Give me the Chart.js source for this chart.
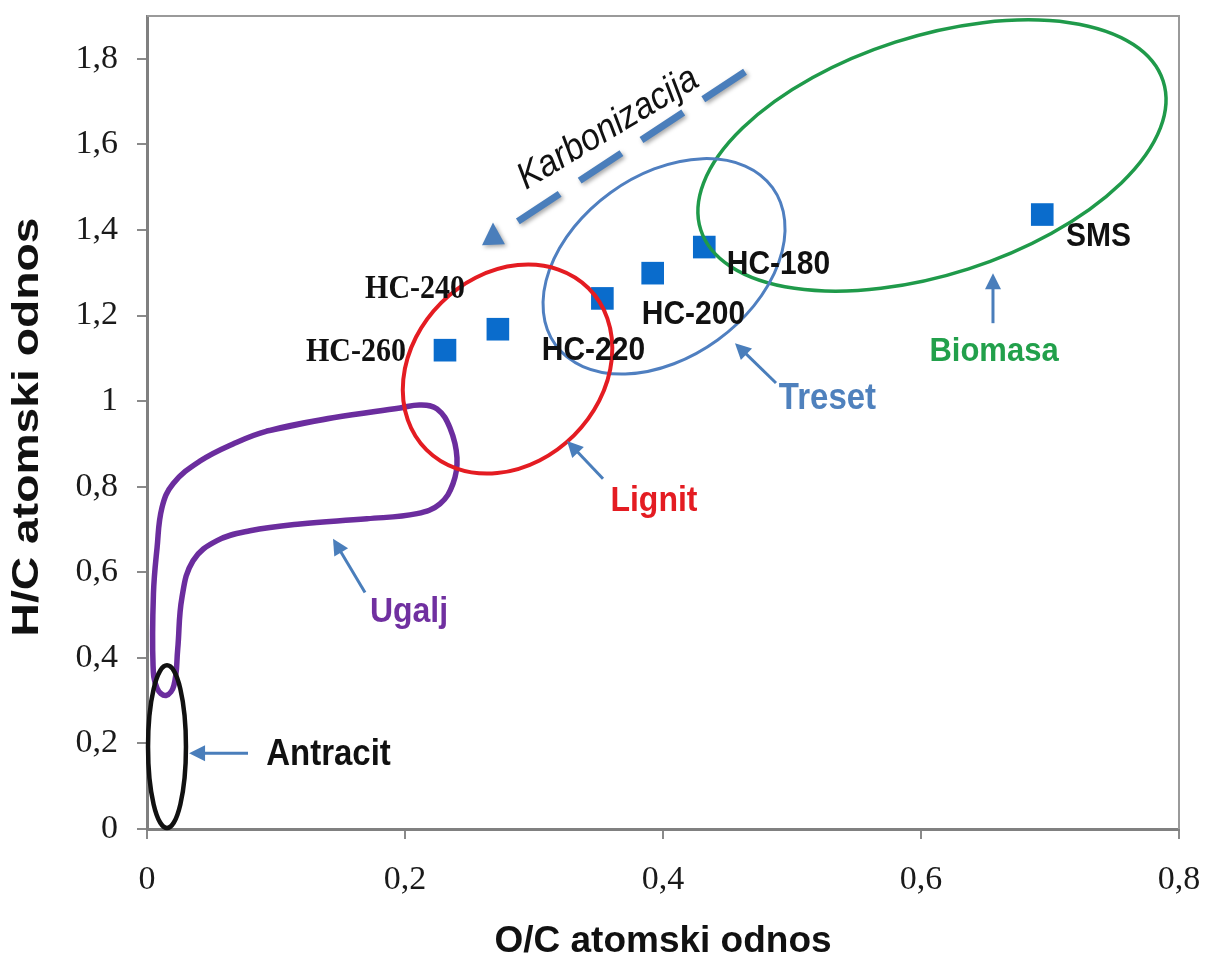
<!DOCTYPE html>
<html><head><meta charset="utf-8">
<script src="https://cdn.jsdelivr.net/npm/chart.js@4.4.1/dist/chart.umd.min.js"></script>
<style>html,body{margin:0;padding:0;background:#fff}#wrap{width:1206px;height:960px}</style>
</head><body><div id="wrap"><canvas id="c" width="1206" height="960"></canvas></div>
<script>
// ---- data ----
const categories = ['HC-260', 'HC-240', 'HC-220', 'HC-200', 'HC-180', 'SMS'];
const ocRatio = [0.231, 0.272, 0.353, 0.392, 0.432, 0.694];
const hcRatio = [1.119, 1.168, 1.240, 1.299, 1.360, 1.436];

const xTickValues = [0, 0.2, 0.4, 0.6, 0.8];
const xTickLabels = ['0', '0,2', '0,4', '0,6', '0,8'];
const yTickValues = [0, 0.2, 0.4, 0.6, 0.8, 1.0, 1.2, 1.4, 1.6, 1.8];
const yTickLabels = ['0', '0,2', '0,4', '0,6', '0,8', '1', '1,2', '1,4', '1,6', '1,8'];

// Ugalj (coal) region outline
const coalOC = [0.0930, 0.1442, 0.1961, 0.2116, 0.2248, 0.2349, 0.2403, 0.2372, 0.2271, 0.2093, 0.1705, 0.1186, 0.0798, 0.0543, 0.0357, 0.0271, 0.0238, 0.0209, 0.0147, 0.0078, 0.0047, 0.0050, 0.0078, 0.0116, 0.0202, 0.0411, 0.0667, 0.0930, 0.1442, 0.1961];
const coalHC = [0.930, 0.961, 0.984, 0.991, 0.982, 0.937, 0.867, 0.807, 0.760, 0.737, 0.725, 0.713, 0.697, 0.674, 0.627, 0.541, 0.420, 0.336, 0.312, 0.329, 0.382, 0.550, 0.657, 0.751, 0.807, 0.860, 0.900, 0.930, 0.961, 0.984];

// region ellipses: centre and two conjugate half-axis vectors (data units)
const regionNames = ['Biomasa', 'Treset', 'Lignit', 'Antracit'];
const regionCenterOC = [0.6085, 0.4008, 0.2795, 0.0155];
const regionCenterHC = [1.574, 1.315, 1.0748, 0.1924];
const regionAxisU = [[0.1792, 0.1741], [0.0841, 0.1838], [0.0628, 0.1889], [0.0147, 0]];
const regionAxisV = [[0.02845, -0.2649], [0.04155, -0.1721], [0.0515, -0.1548], [0, 0.19]];
const regionColors = ['#1f9a4a', '#4f7fc0', '#e41c22', '#111111'];
const regionWidths = [3.5, 3, 4, 4.5];

// point labels
const pointLabelOC = [0.162, 0.2078, 0.3461, 0.4236, 0.4895, 0.7376];
const pointLabelHC = [1.113, 1.260, 1.118, 1.202, 1.3185, 1.3838];
const pointLabelSerif = [true, true, false, false, false, false];

// region labels + arrows (tail -> tip)
const regionLabelOC = [0.6566, 0.5275, 0.393, 0.1407, 0.2031];
const regionLabelHC = [1.1168, 1.005, 0.767, 0.1725, 0.506];
const regionLabelText = ['Biomasa', 'Treset', 'Lignit', 'Antracit', 'Ugalj'];
const regionLabelColor = ['#22a04b', '#4f81bd', '#e41c22', '#111111', '#7030a0'];
const regionLabelSize = [31, 33, 32, 33, 32];
const arrowTail = [[0.6558, 1.1821], [0.4876, 1.0422], [0.3535, 0.8184], [0.0783, 0.1772], [0.169, 0.5526]];
const arrowTip = [[0.6558, 1.2987], [0.4558, 1.1355], [0.3256, 0.907], [0.0326, 0.1772], [0.1442, 0.6785]];

// carbonisation trend arrow
const trendStart = [0.4636, 1.7697];
const trendEnd = [0.2814, 1.4079];
const trendHead = [[0.2682, 1.4176], [0.2597, 1.364], [0.2775, 1.3664]];
const trendLabel = {text: 'Karbonizacija', oc: 0.3574, hc: 1.6368};

// ---- plugin ----
const overlay = {
  id: 'overlay',
  afterDatasetsDraw(chart) {
    const {ctx, chartArea, scales: {x, y}} = chart;
    const px = v => x.getPixelForValue(v), py = v => y.getPixelForValue(v);
    // frame top/right
    ctx.save();
    ctx.strokeStyle = '#9a9a9a'; ctx.lineWidth = 2;
    ctx.beginPath();
    ctx.moveTo(chartArea.left, chartArea.top); ctx.lineTo(chartArea.right, chartArea.top); ctx.lineTo(chartArea.right, chartArea.bottom);
    ctx.stroke();
    ctx.restore();

    // ellipses
    regionNames.forEach((n, i) => {
      const cx = regionCenterOC[i], cy = regionCenterHC[i];
      const X = px(cx), Y = py(cy);
      const ux = px(cx + regionAxisU[i][0]) - X, uy = py(cy + regionAxisU[i][1]) - Y;
      const vx = px(cx + regionAxisV[i][0]) - X, vy = py(cy + regionAxisV[i][1]) - Y;
      ctx.save();
      ctx.beginPath();
      ctx.save();
      ctx.transform(ux, uy, vx, vy, X, Y);
      ctx.arc(0, 0, 1, 0, Math.PI * 2);
      ctx.restore();
      ctx.strokeStyle = regionColors[i]; ctx.lineWidth = regionWidths[i];
      ctx.stroke();
      ctx.restore();
    });

    const text = (t, X, Y, font, color, rot, sy) => {
      ctx.save(); ctx.translate(X, Y); if (rot) ctx.rotate(rot); ctx.scale(1, sy || 1.1);
      ctx.font = font; ctx.fillStyle = color; ctx.textAlign = 'center'; ctx.textBaseline = 'middle';
      ctx.fillText(t, 0, 0); ctx.restore();
    };

    // point labels
    categories.forEach((c, i) => {
      const f = pointLabelSerif[i] ? 'bold 30px "Liberation Serif", "Times New Roman", serif' : 'bold 30px "Liberation Sans", Arial, sans-serif';
      text(c, px(pointLabelOC[i]), py(pointLabelHC[i]), f, '#111', 0, 1.1);
    });

    // arrows
    const arrowColor = '#4a7ebb';
    arrowTail.forEach((t, i) => {
      const x0 = px(t[0]), y0 = py(t[1]), x1 = px(arrowTip[i][0]), y1 = py(arrowTip[i][1]);
      const a = Math.atan2(y1 - y0, x1 - x0), hl = 16, hw = 8;
      ctx.save();
      ctx.strokeStyle = arrowColor; ctx.fillStyle = arrowColor; ctx.lineWidth = 3;
      ctx.beginPath(); ctx.moveTo(x0, y0); ctx.lineTo(x1 - Math.cos(a) * (hl - 2), y1 - Math.sin(a) * (hl - 2)); ctx.stroke();
      ctx.beginPath();
      ctx.moveTo(x1, y1);
      ctx.lineTo(x1 - Math.cos(a) * hl + Math.sin(a) * hw, y1 - Math.sin(a) * hl - Math.cos(a) * hw);
      ctx.lineTo(x1 - Math.cos(a) * hl - Math.sin(a) * hw, y1 - Math.sin(a) * hl + Math.cos(a) * hw);
      ctx.closePath(); ctx.fill();
      ctx.restore();
    });

    // region labels
    regionLabelText.forEach((t, i) => {
      text(t, px(regionLabelOC[i]), py(regionLabelHC[i]), 'bold ' + regionLabelSize[i] + 'px "Liberation Sans", Arial, sans-serif', regionLabelColor[i], 0, 1.1);
    });

    // carbonisation trend
    ctx.save();
    ctx.shadowColor = 'rgba(0,0,0,0.35)'; ctx.shadowBlur = 4; ctx.shadowOffsetX = 2; ctx.shadowOffsetY = 2;
    ctx.strokeStyle = '#4a7ebb'; ctx.fillStyle = '#4a7ebb'; ctx.lineWidth = 7;
    ctx.setLineDash([50, 24]);
    ctx.beginPath(); ctx.moveTo(px(trendStart[0]), py(trendStart[1])); ctx.lineTo(px(trendEnd[0]), py(trendEnd[1])); ctx.stroke();
    ctx.setLineDash([]);
    ctx.beginPath();
    trendHead.forEach((p, k) => { if (k === 0) ctx.moveTo(px(p[0]), py(p[1])); else ctx.lineTo(px(p[0]), py(p[1])); });
    ctx.closePath(); ctx.fill();
    ctx.restore();
    text(trendLabel.text, px(trendLabel.oc), py(trendLabel.hc), 'italic 34px "Liberation Sans", Arial, sans-serif', '#111', -31 * Math.PI / 180, 1.1);
  },
  afterDraw(chart) {
    const {ctx} = chart;
    ctx.save();
    ctx.translate(28, 427);
    ctx.rotate(-Math.PI / 2);
    ctx.scale(1.25, 1);
    ctx.font = 'bold 37px "Liberation Sans", Arial, sans-serif';
    ctx.fillStyle = '#111'; ctx.textAlign = 'center'; ctx.textBaseline = 'middle';
    ctx.fillText('H/C atomski odnos', 0, 0);
    ctx.restore();
  }
};

const gridStyle = {drawOnChartArea: false, drawTicks: true, tickLength: 10, color: '#8a8a8a', lineWidth: 2};
const tickFont = {family: '"Liberation Serif", "Times New Roman", serif', size: 34};

new Chart(document.getElementById('c'), {
  type: 'scatter',
  data: {
    datasets: [
      {
        label: 'Uzorci',
        data: categories.map((c, i) => ({x: ocRatio[i], y: hcRatio[i]})),
        pointStyle: 'rect', pointRadius: 16, pointHoverRadius: 16,
        backgroundColor: '#0a6ccc', borderWidth: 0
      },
      {
        label: 'Ugalj',
        data: coalOC.map((v, i) => ({x: v, y: coalHC[i]})),
        showLine: true, tension: 0.4, pointRadius: 0, borderColor: '#6b2d9e', borderWidth: 5.5,
        fill: false, borderCapStyle: 'round', borderJoinStyle: 'round'
      }
    ]
  },
  options: {
    responsive: false, animation: false, devicePixelRatio: 1,
    layout: {padding: {top: 14, right: 27, left: 0, bottom: 0}},
    plugins: {legend: {display: false}, tooltip: {enabled: false}},
    scales: {
      x: {
        type: 'linear', min: 0, max: 0.8,
        afterBuildTicks: s => { s.ticks = xTickValues.map(v => ({value: v})); },
        afterFit: s => { s.height = 131; s.paddingLeft = 0; s.paddingRight = 0; },
        ticks: {callback: v => xTickLabels[xTickValues.indexOf(v)], font: tickFont, color: '#1a1a1a', padding: 21, maxRotation: 0, autoSkip: false},
        grid: gridStyle,
        border: {color: '#808080', width: 3},
        title: {display: true, text: 'O/C atomski odnos', color: '#111', padding: 0,
          font: {family: '"Liberation Sans", Arial, sans-serif', size: 37, weight: 'bold', lineHeight: 1}}
      },
      y: {
        type: 'linear', min: 0, max: 1.9,
        afterBuildTicks: s => { s.ticks = yTickValues.map(v => ({value: v})); },
        afterFit: s => { s.width = 147; s.paddingTop = 0; s.paddingBottom = 0; },
        ticks: {callback: v => yTickLabels[yTickValues.indexOf(v)], font: tickFont, color: '#1a1a1a', padding: 19, autoSkip: false},
        grid: gridStyle,
        border: {color: '#808080', width: 3}
      }
    }
  },
  plugins: [overlay]
});
</script></body></html>
